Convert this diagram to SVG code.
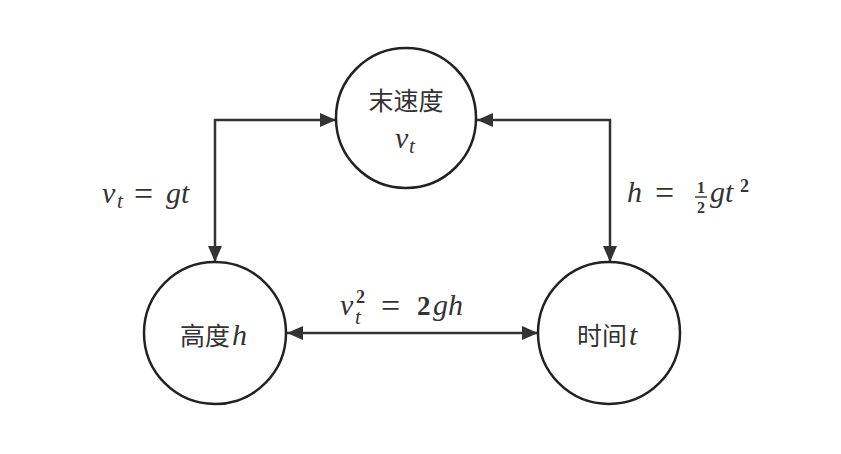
<svg xmlns="http://www.w3.org/2000/svg" width="841" height="454" viewBox="0 0 841 454">
<defs>
<style>
.node{fill:#fff;stroke:#222;stroke-width:2.5}
.edge{fill:none;stroke:#333;stroke-width:2.5}
.cjk{font-family:"Noto Sans CJK SC","Noto Sans",sans-serif;font-size:25px;fill:#333}
.m{font-family:"Liberation Serif","Times New Roman",serif;font-size:30px;fill:#333}
.i{font-style:italic}
.b{font-weight:bold}
.sub{font-size:21px}
.sup{font-size:18px}
.eq{font-size:34px}
.frac{font-size:16px}
.big2{font-size:27px}
</style>
<marker id="ah" viewBox="0 0 16 14" refX="16" refY="7" markerWidth="16" markerHeight="14" markerUnits="userSpaceOnUse" orient="auto-start-reverse">
<path d="M0,0 L16,7 L0,14 z" fill="#333"/>
</marker>
</defs>
<rect width="841" height="454" fill="#fff"/>
<g id="connectors">
<path class="edge" d="M336,120 H215 V262" marker-start="url(#ah)" marker-end="url(#ah)"/>
<path class="edge" d="M477,120 H610 V262" marker-start="url(#ah)" marker-end="url(#ah)"/>
<path class="edge" d="M287,333 H538" marker-start="url(#ah)" marker-end="url(#ah)"/>
</g>
<g id="node-speed">
<circle class="node" cx="406" cy="118" r="70"/>
<text class="cjk" x="406" y="110" text-anchor="middle">末速度</text>
<text class="m i" x="395" y="148">v</text>
<text class="m i sub" x="409" y="153">t</text>
</g>
<g id="node-height">
<circle class="node" cx="215" cy="333" r="71"/>
<text class="cjk" x="180" y="345">高度</text>
<text class="m i" x="232" y="345">h</text>
</g>
<g id="node-time">
<circle class="node" cx="609" cy="333" r="71"/>
<text class="cjk" x="577" y="345">时间</text>
<text class="m i" x="629" y="345">t</text>
</g>
<g id="labels">
<g id="label-left">
<text class="m i" x="102" y="203">v</text>
<text class="m i sub" x="117" y="208">t</text>
<text class="m eq" x="134" y="205">=</text>
<text class="m i" x="166" y="203">gt</text>
</g>
<g id="label-right">
<text class="m i" x="627" y="202">h</text>
<text class="m eq" x="655" y="204">=</text>
<text class="m b frac" text-anchor="middle"><tspan x="701" y="193">1</tspan><tspan x="701" y="213">2</tspan></text>
<line x1="695" y1="197" x2="707" y2="197" stroke="#333" stroke-width="1.4"/>
<text class="m i" x="710" y="202">gt</text>
<text class="m b sup" x="740" y="192">2</text>
</g>
<g id="label-bottom">
<text class="m i" x="340" y="315">v</text>
<text class="m b sup" x="356" y="303">2</text>
<text class="m i sub" x="355" y="324">t</text>
<text class="m eq" x="381" y="317">=</text>
<text class="m b big2" x="417" y="315">2</text>
<text class="m i" x="433" y="315">gh</text>
</g>
</g>
</svg>
